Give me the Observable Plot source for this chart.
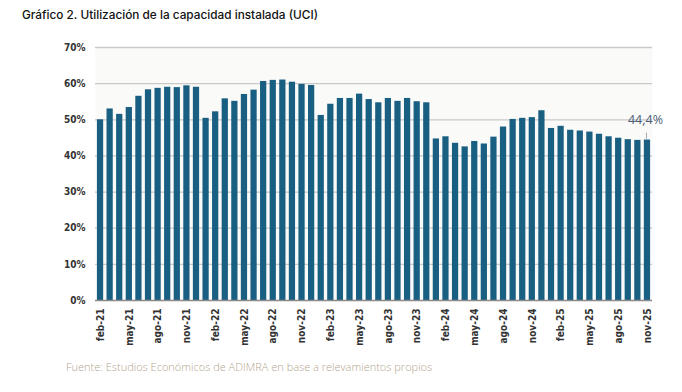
<!DOCTYPE html>
<html><head><meta charset="utf-8">
<script src="https://cdn.jsdelivr.net/npm/d3@7"></script>
<script src="https://cdn.jsdelivr.net/npm/@observablehq/plot@0.6"></script>
<style>
body{margin:0;background:#fff;}
#wrap{position:relative;width:682px;height:392px;overflow:hidden;}
#title{position:absolute;left:22px;top:8px;font-family:Inter,sans-serif;font-weight:500;font-size:11.8px;color:#111;white-space:nowrap;}
#chart{position:absolute;left:0;top:30px;}
#caption{position:absolute;left:66px;top:359px;font-family:"Open Sans",sans-serif;font-weight:300;font-size:11px;color:#b3a68e;white-space:nowrap;}
</style></head>
<body>
<div id="wrap">
<div id="title">Gráfico 2. Utilización de la capacidad instalada (UCI)</div>
<div id="chart"></div>
<div id="caption">Fuente: Estudios Económicos de ADIMRA en base a relevamientos propios</div>
</div>
<script>
const months = ["feb-21","mar-21","abr-21","may-21","jun-21","jul-21","ago-21","sep-21","oct-21","nov-21","dic-21",
"ene-22","feb-22","mar-22","abr-22","may-22","jun-22","jul-22","ago-22","sep-22","oct-22","nov-22","dic-22",
"ene-23","feb-23","mar-23","abr-23","may-23","jun-23","jul-23","ago-23","sep-23","oct-23","nov-23","dic-23",
"ene-24","feb-24","mar-24","abr-24","may-24","jun-24","jul-24","ago-24","sep-24","oct-24","nov-24","dic-24",
"ene-25","feb-25","mar-25","abr-25","may-25","jun-25","jul-25","ago-25","sep-25","oct-25","nov-25"];
const uci = [50.0,53.0,51.5,53.4,56.5,58.3,58.7,59.0,58.9,59.4,59.0,
50.4,52.2,55.8,55.1,57.0,58.2,60.6,60.9,61.0,60.4,59.8,59.5,
51.2,54.3,55.9,55.9,57.1,55.6,54.7,55.9,55.1,55.9,55.0,54.7,
44.7,45.3,43.5,42.5,44.0,43.3,45.2,48.0,50.1,50.4,50.6,52.5,
47.6,48.2,47.1,46.9,46.6,46.0,45.3,44.9,44.5,44.3,44.4];
const yTicks = [0,10,20,30,40,50,60,70];
const xTickLabels = months.filter((m,i)=>i%3===0);
const lastLabel = "44,4%";

const data = months.map((m,i)=>({mes:m, v:uci[i]}));
const last = data[data.length-1];
const font = "'DejaVu Sans Condensed', sans-serif";

const chart = Plot.plot({
  width: 682,
  height: 330,
  marginTop: 17,
  marginBottom: 60,
  marginLeft: 95,
  marginRight: 30,
  style: {fontFamily: font, fontSize: "10px", color: "#333", background: "transparent"},
  x: {type: "band", domain: months, paddingInner: 0.35, paddingOuter: 0.2, label: null},
  y: {domain: [0, 70], label: null},
  marks: [
    Plot.frame({fill: "#fafaf9", stroke: null}),
    Plot.ruleY(yTicks.filter(t=>t>0), {stroke: "#c9c9c9", strokeWidth: 1.3}),
    Plot.axisY({ticks: yTicks, tickSize: 0, tickPadding: 10, tickFormat: d => d + "%", fontWeight: "bold", fill: "#333", fontSize: 10}),
    Plot.barY(data, {x: "mes", y: "v", fill: "#195f82"}),
    Plot.ruleY([0], {stroke: "#8a8a8a", strokeWidth: 1.3}),
    Plot.axisX({ticks: xTickLabels, tickSize: 0, tickPadding: 8, tickRotate: -90, fontWeight: "bold", fill: "#333", fontSize: 10}),
    Plot.ruleX([last], {x: "mes", y1: d => d.v + 0.2, y2: d => d.v + 1.9, stroke: "#8a96a2", strokeWidth: 0.8, dx: -1}),
    Plot.text([last], {x: "mes", y: "v", text: () => lastLabel, dy: -20, dx: -2, fill: "#4d6076", fontSize: 12.5, fontFamily: "'Open Sans', sans-serif"})
  ]
});
document.getElementById("chart").appendChild(chart);
</script>
</body></html>
